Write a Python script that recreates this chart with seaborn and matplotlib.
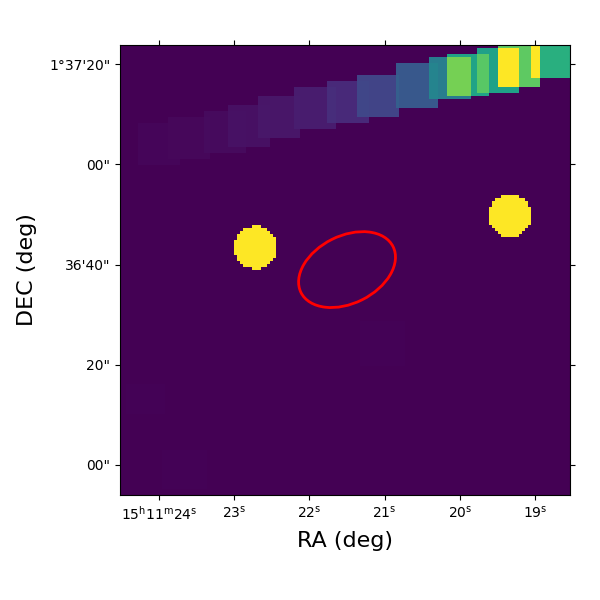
import numpy as np
import seaborn as sns
import matplotlib.pyplot as plt
from matplotlib.patches import Ellipse

# RA in seconds of 15h11m, DEC in arcsec above 1d36m00s
ra_left = 24.519
ra_right = 18.535
dec_bottom = -5.99
dec_top = 83.83
n_cells = 150

tile_ra_east = [24.293, 23.867, 23.415, 23.069, 22.670, 22.218, 21.766, 21.367, 20.862, 20.410, 20.184, 19.785, 19.505, 19.040]
tile_ra_west = [23.734, 23.309, 22.843, 22.511, 22.112, 21.660, 21.207, 20.809, 20.290, 19.838, 19.612, 19.213, 18.934, 18.500]
tile_dec_low = [59.68, 61.08, 62.28, 63.47, 65.07, 66.87, 68.06, 69.46, 71.46, 72.85, 73.65, 74.45, 75.45, 77.05]
tile_dec_high = [68.06, 69.26, 70.66, 71.86, 73.65, 75.25, 76.65, 77.84, 80.04, 81.24, 82.24, 83.03, 83.90, 83.90]
tile_level = [0.012, 0.016, 0.026, 0.04, 0.055, 0.075, 0.115, 0.2, 0.27, 0.42, 0.58, 0.57, 0.75, 0.63]
overlap_level = [0.012, 0.018, 0.028, 0.043, 0.06, 0.08, 0.125, 0.21, 0.3, 0.45, 0.79, 0.74, 1.0, 1.0]

# barely visible patches in the lower half
faint_ra_east = [21.33, 24.45, 23.98]
faint_ra_west = [20.73, 23.92, 23.38]
faint_dec_low = [20.0, 10.0, -5.0]
faint_dec_high = [28.6, 16.0, 3.0]
faint_level = 0.005

source_ra = [22.717, 19.332]
source_dec = [43.41, 49.80]
source_radius = 4.3

ellipse_ra = 21.50
ellipse_dec = 39.0
ellipse_width = 34.3
ellipse_height = 22.5
ellipse_angle = 26.5

ra_ticks = [24, 23, 22, 21, 20, 19]
ra_labels = [r'$15^{\mathrm{h}}11^{\mathrm{m}}24^{\mathrm{s}}$', r'$23^{\mathrm{s}}$', r'$22^{\mathrm{s}}$',
             r'$21^{\mathrm{s}}$', r'$20^{\mathrm{s}}$', r'$19^{\mathrm{s}}$']
dec_ticks = [80, 60, 40, 20, 0]
dec_labels = ['1°37\'20"', '00"', '36\'40"', '20"', '00"']

ra_step = (ra_left - ra_right) / n_cells
dec_step = (dec_top - dec_bottom) / n_cells


def to_col(ra):
    return (ra_left - np.asarray(ra)) / ra_step


def to_row(dec):
    return (np.asarray(dec) - dec_bottom) / dec_step


ra_c = ra_left - (np.arange(n_cells) + 0.5) * ra_step
dec_c = dec_bottom + (np.arange(n_cells) + 0.5) * dec_step
ra_grid, dec_grid = np.meshgrid(ra_c, dec_c)

image = np.zeros((n_cells, n_cells))
for i in range(len(faint_ra_east)):
    mask = (ra_grid < faint_ra_east[i]) & (ra_grid > faint_ra_west[i]) & (dec_grid > faint_dec_low[i]) & (dec_grid < faint_dec_high[i])
    image[mask] = faint_level

tiled = np.zeros_like(image, dtype=bool)
for i in range(len(tile_level)):
    mask = (ra_grid < tile_ra_east[i]) & (ra_grid > tile_ra_west[i]) & (dec_grid > tile_dec_low[i]) & (dec_grid < tile_dec_high[i])
    image[mask] = np.where(tiled[mask], overlap_level[i], tile_level[i])
    tiled |= mask

for r, d in zip(source_ra, source_dec):
    x_off = (ra_grid - r) * 75.2 / 5.01
    y_off = dec_grid - d
    image[np.hypot(x_off, y_off) < source_radius] = 1.0

fig, ax = plt.subplots(figsize=(6, 6), dpi=100)
sns.heatmap(image, ax=ax, cmap='viridis', vmin=0, vmax=1, cbar=False, square=False, xticklabels=False, yticklabels=False)
ax.invert_yaxis()
ax.set_position([0.2, 0.175, 0.75, 0.75])

ax.add_patch(Ellipse((to_col(ellipse_ra), to_row(ellipse_dec)),
                     ellipse_width, ellipse_height, angle=ellipse_angle,
                     fill=False, edgecolor='red', linewidth=2))

ax.set_xticks(to_col(ra_ticks))
ax.set_xticklabels(ra_labels, rotation=0)
ax.set_yticks(to_row(dec_ticks))
ax.set_yticklabels(dec_labels, rotation=0)
ax.tick_params(axis='both', length=3.5, width=0.8, top=True, right=True, bottom=True, left=True, labelsize=10)
for side in ax.spines.values():
    side.set_visible(True)
    side.set_linewidth(0.8)

ax.set_xlabel('RA (deg)', fontsize=16, labelpad=6)
ax.set_ylabel('DEC (deg)', fontsize=16, labelpad=9)

plt.savefig('out.png', dpi=100)
